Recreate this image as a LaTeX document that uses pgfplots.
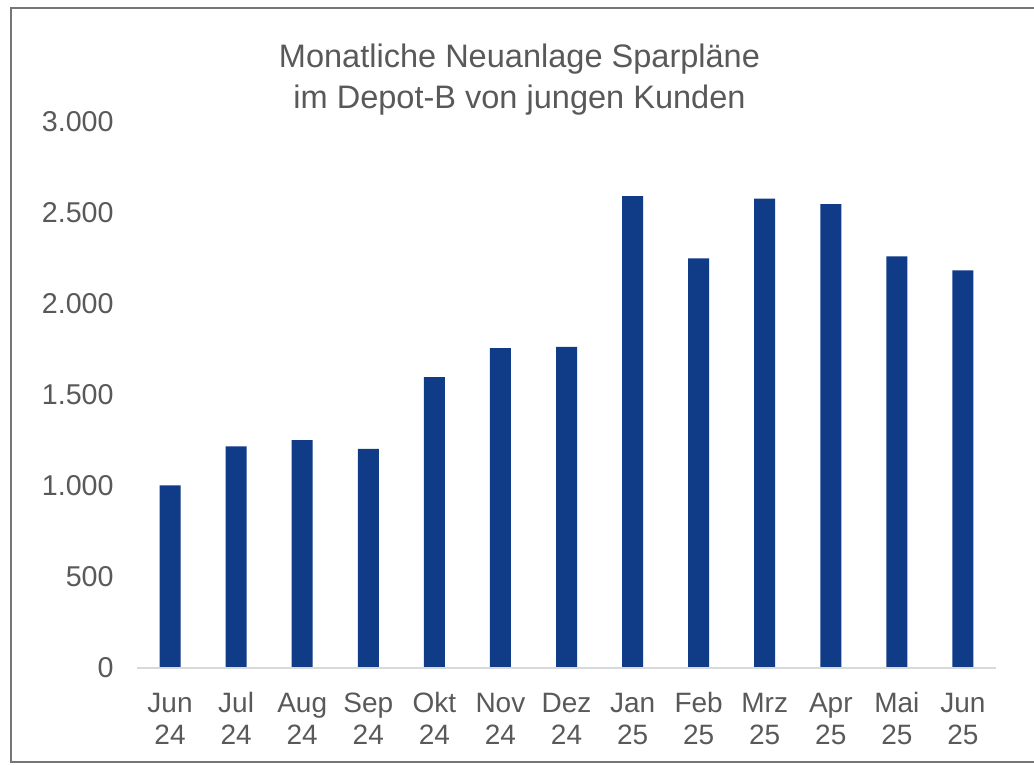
\documentclass[border=0pt]{standalone}
\usepackage{pgfplots}
\pgfplotsset{compat=1.18}
\usepackage{fontspec}
\setmainfont{Liberation Sans}
\definecolor{barblue}{HTML}{0F3B87}
\definecolor{txt}{HTML}{595959}
\definecolor{framec}{HTML}{767676}
\definecolor{axl}{HTML}{D9D9D9}
\begin{document}
\begin{tikzpicture}[x=0.75pt,y=0.75pt]
\useasboundingbox (-137,-96) rectangle (897,668);
\draw[framec, line width=1.9pt] (905,660) -- (-126,660) -- (-126,-94) -- (905,-94);
\begin{axis}[
  at={(0,0)}, anchor=south west,
  scale only axis, width=644.25pt, height=409.5pt,
  xmin=-0.5, xmax=12.5, ymin=0, ymax=3000,
  axis line style={draw=none},
  tick style={draw=none},
  ytick={0,500,1000,1500,2000,2500,3000},
  /pgf/number format/.cd, 1000 sep={.}, assume math mode=true, /pgfplots/.cd,
  yticklabel style={font=\fontsize{21.5}{24}\selectfont, color=txt, xshift=-14pt},
  xtick={0,...,12},
  xticklabels={{\strut Jun\\\strut 24},{\strut Jul\\\strut 24},{\strut Aug\\\strut 24},{\strut Sep\\\strut 24},{\strut Okt\\\strut 24},{\strut Nov\\\strut 24},{\strut Dez\\\strut 24},{\strut Jan\\\strut 25},{\strut Feb\\\strut 25},{\strut Mrz\\\strut 25},{\strut Apr\\\strut 25},{\strut Mai\\\strut 25},{\strut Jun\\\strut 25}},
  xticklabel style={font=\fontsize{21}{24}\selectfont, color=txt, align=center, yshift=-8.5pt},
  ybar, bar width=15.75pt,
  clip=false,
]
\addplot[fill=barblue, draw=none] coordinates {
 (0,1004) (1,1218) (2,1252) (3,1204) (4,1598) (5,1758) (6,1764)
 (7,2593) (8,2251) (9,2579) (10,2549) (11,2262) (12,2185)};
\draw[axl, line width=1.2pt] (rel axis cs:0,0) -- (rel axis cs:1,0);
\end{axis}
\node[align=center, color=txt, font=\fontsize{24.4}{30.75}\selectfont] at (382.5,588.5) {Monatliche Neuanlage Sparpläne\\im Depot-B von jungen Kunden};
\end{tikzpicture}
\end{document}
